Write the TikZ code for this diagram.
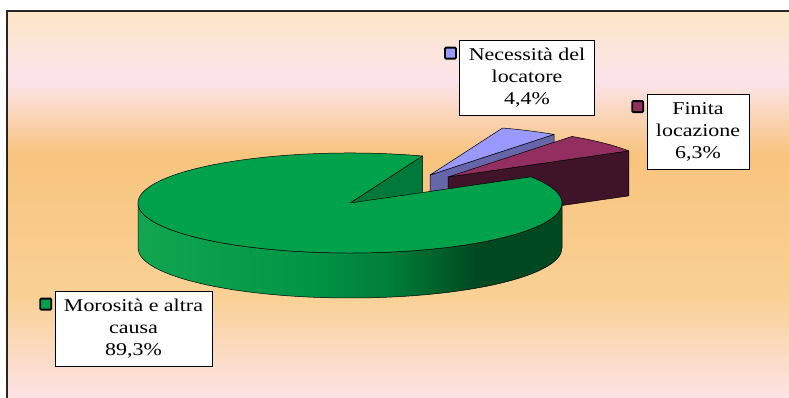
\documentclass[tikz,border=0pt]{standalone}
\usepackage{fontspec}
\setmainfont{Liberation Serif}[FakeStretch=1.22]
\usetikzlibrary{positioning,calc}
\definecolor{bgpeach}{HTML}{FBE6C6}
\definecolor{bgpink}{HTML}{FCE4EC}
\definecolor{bgorange}{HTML}{F8C47E}
\definecolor{bglight}{HTML}{F9D196}
\definecolor{bgrose}{HTML}{FDE3E6}
\definecolor{morosita}{HTML}{00A14B}
\definecolor{morositacut}{HTML}{007A3A}
\definecolor{necessita}{HTML}{9999FF}
\definecolor{necessitaside}{HTML}{6666AA}
\definecolor{finita}{HTML}{922F60}
\definecolor{finitaside}{HTML}{3F1429}
\definecolor{gsA}{HTML}{12A650}
\definecolor{gsB}{HTML}{009646}
\definecolor{gsC}{HTML}{007D37}
\definecolor{gsD}{HTML}{004820}
\pgfdeclarehorizontalshading{greenside}{100bp}{color(0bp)=(gsA); color(25bp)=(gsA); color(45bp)=(gsB); color(55bp)=(gsC); color(65bp)=(gsD); color(100bp)=(gsD)}

\begin{document}
\begin{tikzpicture}[x=1pt, y=1pt,
    slice/.style={draw=black, line width=0.5pt, line join=round},
    rim/.style={x radius=212, y radius=50},
    labelbox/.style={draw=black, fill=white, line width=0.7pt, align=center, inner xsep=9pt, minimum height=75pt, font=\fontsize{18}{22}\selectfont},
    keybox/.style={draw=black, line width=1.8pt, minimum size=11pt, inner sep=0pt, rounded corners=1pt}]
      \useasboundingbox (0,0) rectangle (789,398);
      \fill[white] (0,0) rectangle (789,398);

      % Background bands
      \foreach \ytop/\ybot/\ctop/\cbot in {387/317/bgpeach/bgpink, 318/244/bgpink/bgorange, 245/99/bgorange/bglight, 100/0/bglight/bgrose} {
          \shade[top color=\ctop, bottom color=\cbot] (7,\ybot) rectangle (789,\ytop);
        }
      \draw[black!85, line width=1.5pt] (7,0) -- (7,387) -- (789,387);

      % Pie geometry (radii 212 and 50, depth 45)
      \coordinate (C) at (350,195);
      \coordinate (B) at (430,223);
      \coordinate (M) at (448,221);

      % Exploded slices
      \filldraw[slice, fill=necessitaside] (B) -- ($(B)+(54.2:212 and 50)$) -- ++(0,-45) -- ($(B)+(0,-45)$) -- cycle;
      \filldraw[slice, fill=necessita] (B) -- ($(B)+(54.2:212 and 50)$) arc[rim, start angle=54.2, end angle=70] -- cycle;
      \filldraw[slice, fill=finitaside] (M) -- ($(M)+(31.5:212 and 50)$) -- ++(0,-45) -- ($(M)+(0,-45)$) -- cycle;
      \filldraw[slice, fill=finita] (M) -- ($(M)+(31.5:212 and 50)$) arc[rim, start angle=31.5, end angle=54.2] -- cycle;

      % Main slice
      \filldraw[slice, fill=morositacut] (C) -- ($(C)+(70:212 and 50)$) -- ++(0,-45) -- ($(C)+(0,-45)$) -- cycle;
      \shadedraw[slice, shading=greenside] ($(C)+(180:212 and 50)$) arc[rim, start angle=180, end angle=360] -- ++(0,-45) arc[rim, start angle=0, end angle=-180] -- cycle;
      \filldraw[slice, fill=morosita] (C) -- ($(C)+(70:212 and 50)$) arc[rim, start angle=70, end angle=391.5] -- cycle;

      % Labels and keys
      \node[labelbox] (nec) at (527,320) {Necessità del\\locatore\\4,4\%};
      \node[labelbox] (fin) at (698,266.5) {Finita\\locazione\\6,3\%};
      \node[labelbox] (mor) at (133.5,69) {Morosità e altra\\causa\\89,3\%};
      \foreach \lbl/\col in {nec/necessita, fin/finita, mor/morosita} {
          \node[keybox, fill=\col, left=2.5pt of \lbl.north west, yshift=-13pt] (\lbl key) {};
        }
    \end{tikzpicture}
\end{document}
